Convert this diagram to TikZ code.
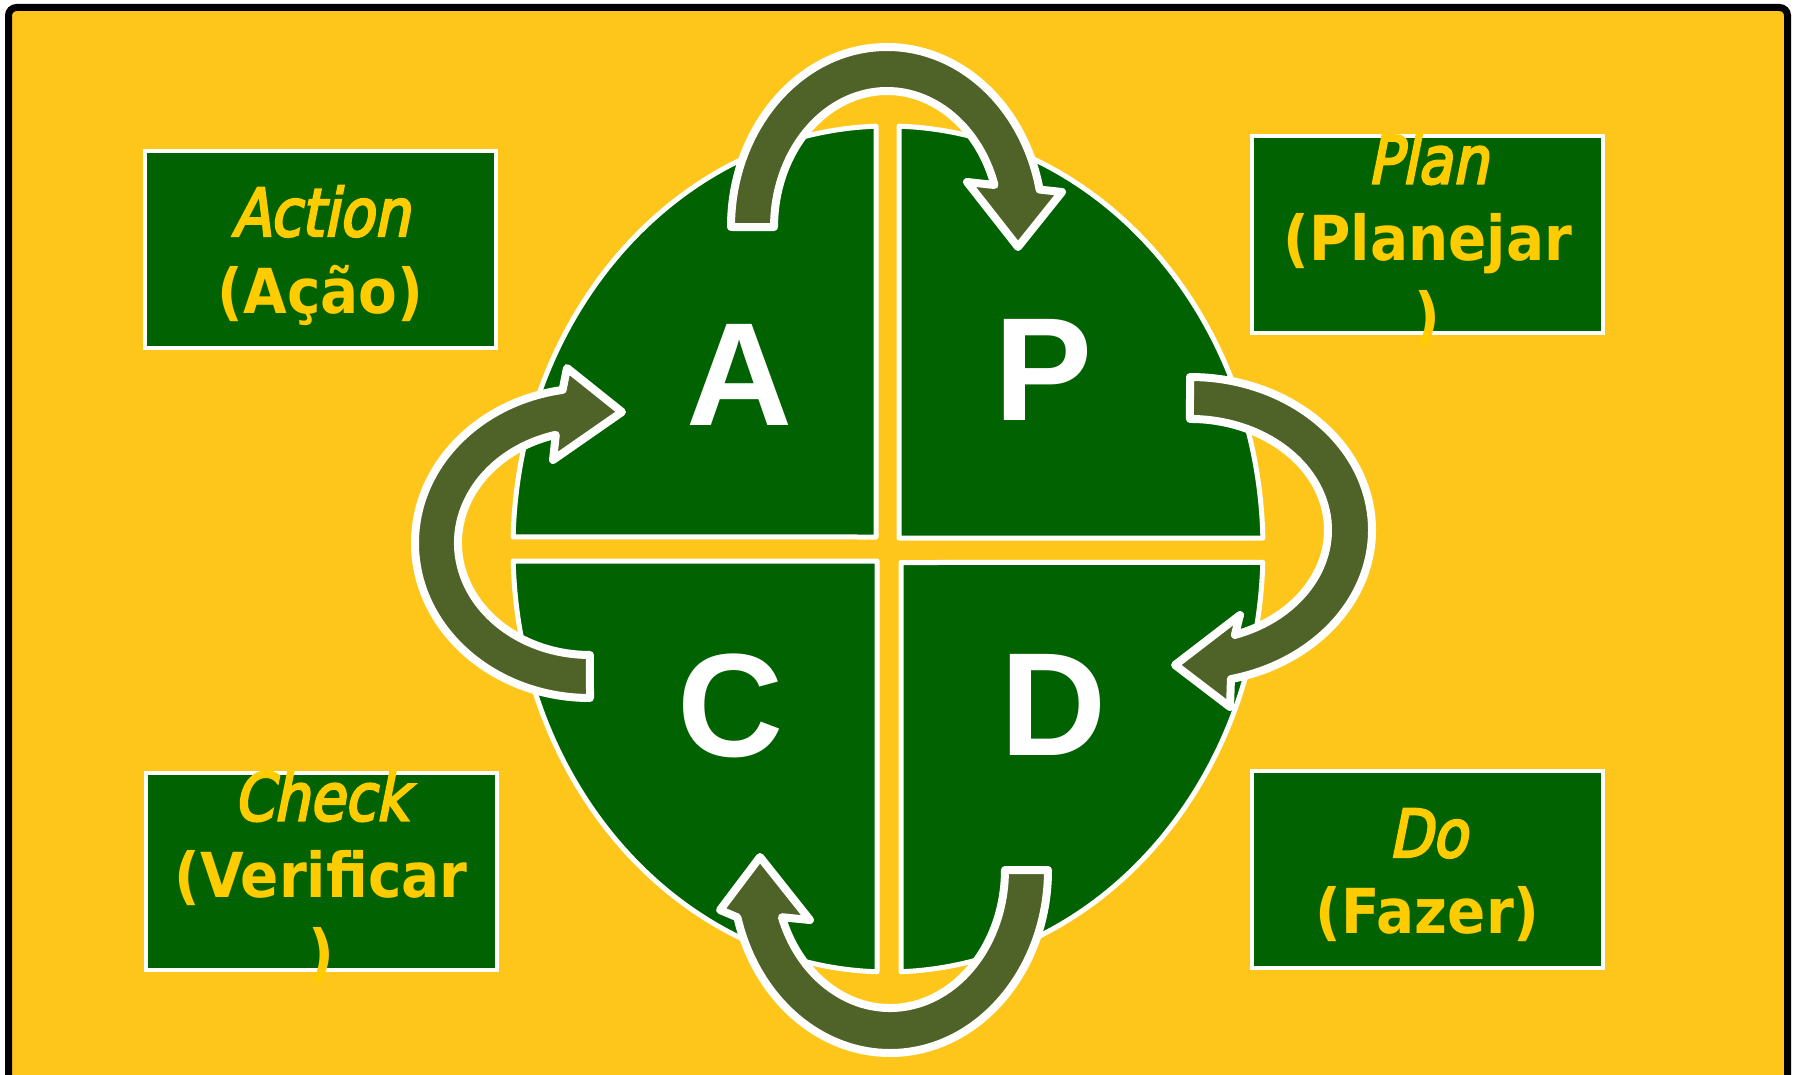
\documentclass[tikz,border=0pt]{standalone}
\usepackage{fontspec}
\newfontfamily\lettersf{Liberation Sans}
\newfontfamily\labelsl[FakeStretch=0.86,FakeSlant=0.2,FakeBold=3.5]{DejaVu Sans}
\newfontfamily\labelbf[FakeStretch=0.91]{DejaVu Sans}
\definecolor{bgyellow}{RGB}{254,198,27}
\definecolor{quadgreen}{RGB}{0,98,0}
\definecolor{arrolive}{RGB}{79,98,40}
\definecolor{txtyellow}{RGB}{255,204,0}

\begin{document}
\begin{tikzpicture}[x=1pt,y=-1pt,
  quad/.style={fill=quadgreen,draw=white,line width=5pt,line join=round},
  cyclearrow/.style={fill=arrolive,draw=white,line width=8pt,line join=round},
  infobox/.style={rectangle,fill=quadgreen,draw=white,line width=4pt,
    minimum width=351pt,minimum height=197pt,inner sep=0pt},
  boxtxt/.style={text=txtyellow,align=center,inner sep=0pt,
    font=\labelbf\bfseries\fontsize{62}{77}\selectfont},
  letter/.style={text=white,anchor=base,inner sep=0pt,
    font=\lettersf\bfseries\fontsize{147}{147}\selectfont}]
\useasboundingbox (0,0) rectangle (1796,1075);

% Background and frame
\fill[white] (0,0) rectangle (1796,1075);
\draw[fill=bgyellow,line width=7pt,rounded corners=8pt] (8.5,7.5) rectangle (1787.5,1110);

% Quadrants
\path[quad] (876,126.2) arc[start angle=268.17,end angle=181.63,x radius=375,y radius=423] -- (876,537) -- cycle;
\path[quad] (899,126.2) arc[start angle=271.68,end angle=358.51,x radius=375,y radius=423] -- (899,538) -- cycle;
\path[quad] (513.2,561) arc[start angle=178.37,end angle=91.68,x radius=375,y radius=423] -- (877,561) -- cycle;
\path[quad] (901,971.7) arc[start angle=88.01,end angle=1.83,x radius=375,y radius=423] -- (901,562.5) -- cycle;

\node[letter] (A) at (740,425) {A};
\node[letter] (P) at (1044,420) {P};
\node[letter] (C) at (731,756) {C};
\node[letter] (D) at (1054,755) {D};

% Cycle arrows
\path[cyclearrow] (731,227) arc[start angle=180,end angle=348,x radius=156,y radius=180]
  -- (1062,192) -- (1018,247) -- (967,182) -- (994.5,185)
  arc[start angle=342,end angle=180,x radius=113,y radius=136] -- cycle;
\path[cyclearrow] (1190,377) arc[start angle=-90,end angle=77,x radius=182,y radius=153]
  -- (1230,707) -- (1175,665) -- (1240,615) -- (1234.9,634.9)
  arc[start angle=71,end angle=-90,x radius=138,y radius=111] -- cycle;
\path[cyclearrow] (1048,870) arc[start angle=0,end angle=165,x radius=158,y radius=183]
  -- (720,910) -- (760,857) -- (810,920) -- (781.9,917.2)
  arc[start angle=160,end angle=0,x radius=115,y radius=138] -- cycle;
\path[cyclearrow] (590,698) arc[start angle=90,end angle=261,x radius=175,y radius=155]
  -- (567,368) -- (622,412) -- (553,460) -- (555.8,434.8)
  arc[start angle=255,end angle=90,x radius=132,y radius=112] -- cycle;

% Labels
\node[infobox] (act) at (320.75,249.5) {};
\node[infobox] (plan) at (1427.75,234.5) {};
\node[infobox] (check) at (321,871.5) {};
\node[infobox] (do) at (1427.75,869.5) {};

\node[boxtxt] (acttxt) at ([yshift=-6pt]act.center) {{\labelsl\mdseries\fontsize{66}{77}\selectfont Action}\\(Ação)};
\node[boxtxt] (plantxt) at ([yshift=-5pt]plan.center) {{\labelsl\mdseries\fontsize{66}{77}\selectfont Plan}\\(Planejar\\)};
\node[boxtxt] (checktxt) at ([yshift=-5pt]check.center) {{\labelsl\mdseries\fontsize{66}{77}\selectfont Check}\\(Verificar\\)};
\node[boxtxt] (dotxt) at ([yshift=-6pt]do.center) {{\labelsl\mdseries\fontsize{66}{77}\selectfont Do}\\(Fazer)};
\end{tikzpicture}
\end{document}
